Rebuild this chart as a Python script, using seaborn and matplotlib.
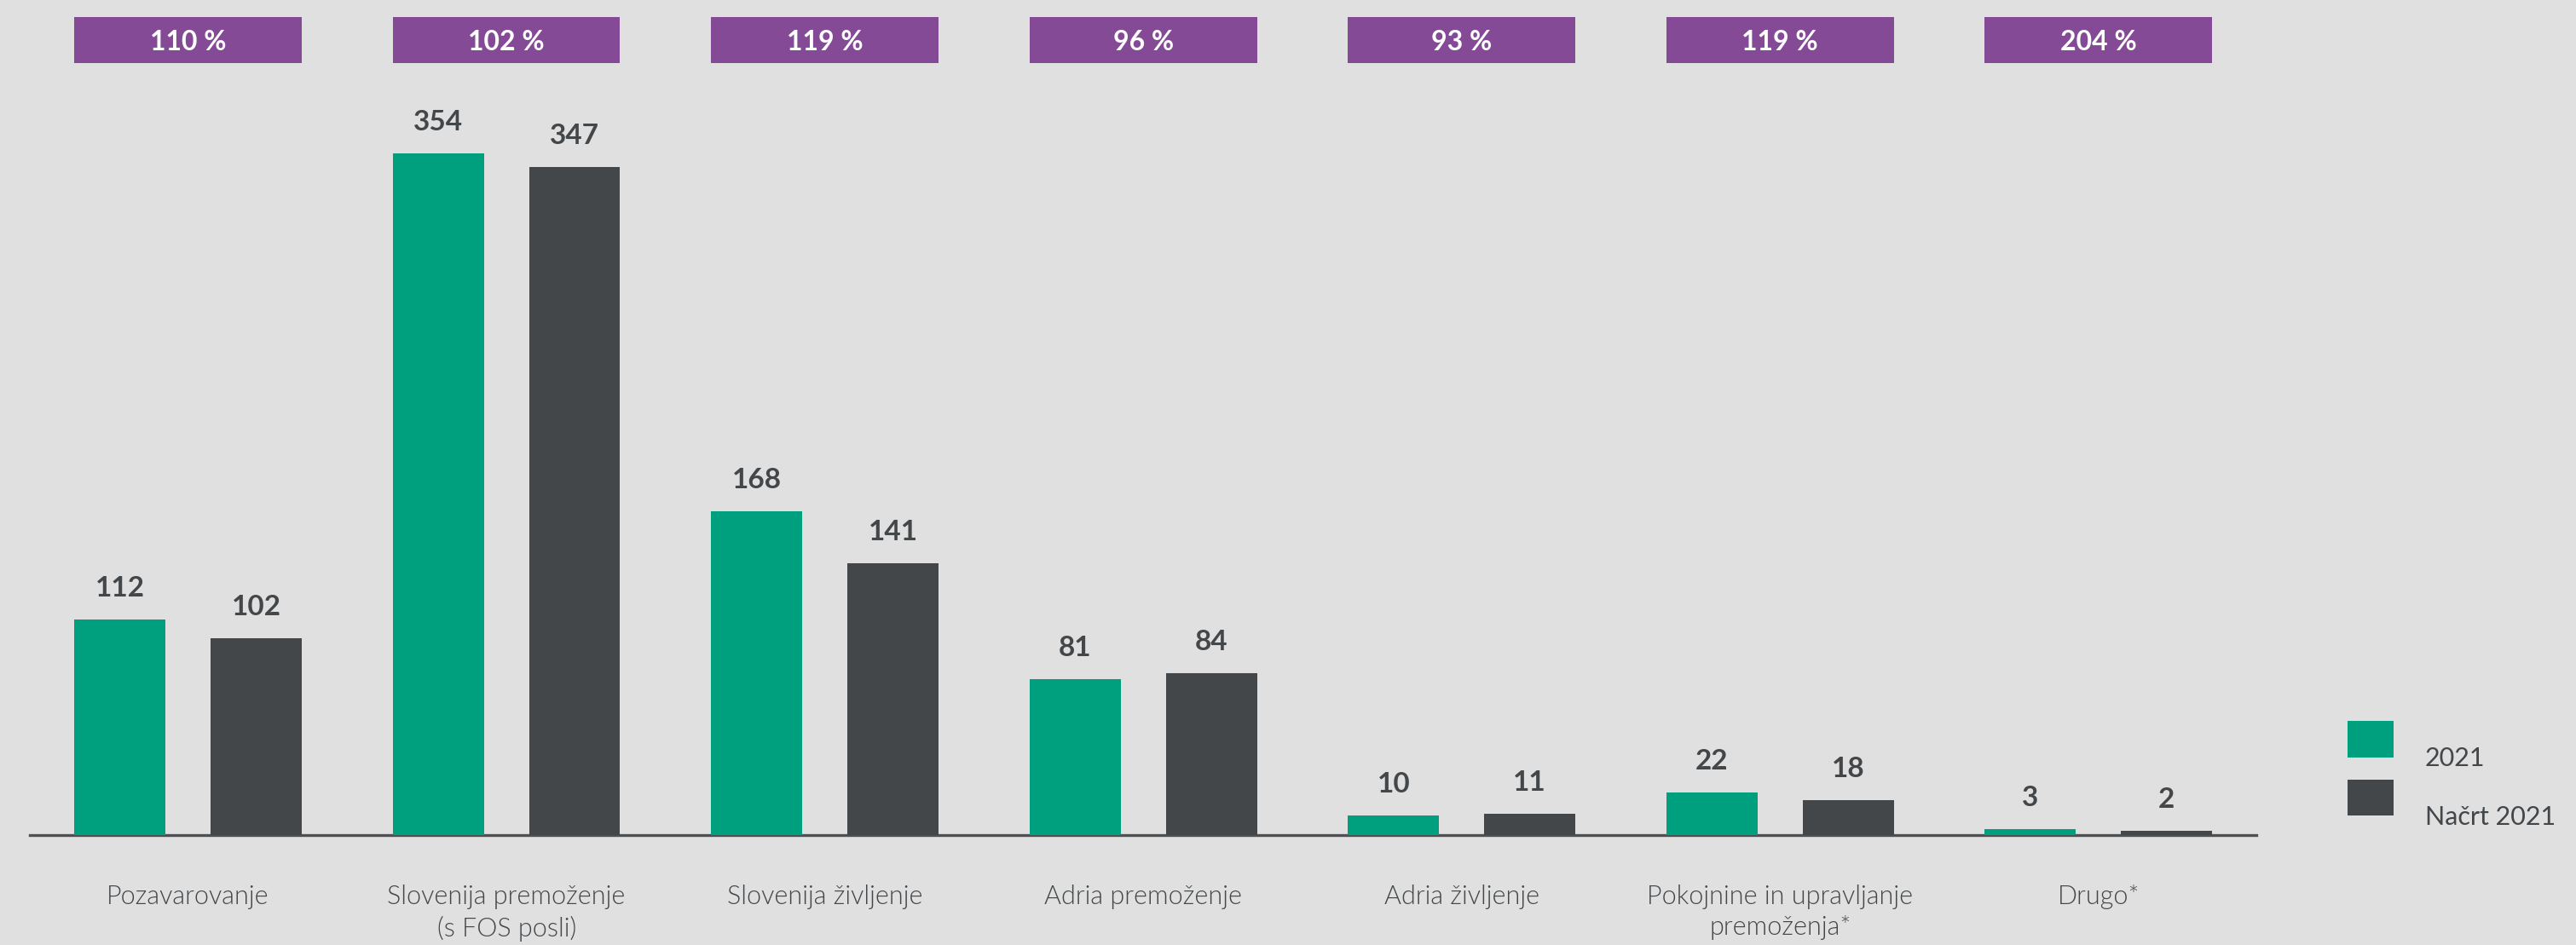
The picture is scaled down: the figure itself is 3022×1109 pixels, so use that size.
import matplotlib
matplotlib.use("Agg")
import matplotlib.pyplot as plt
import matplotlib.patches as mpatches
import matplotlib.transforms as mtransforms
import seaborn as sns
import pandas as pd

# ---- data ----
categories = [
    "Pozavarovanje",
    "Slovenija premoženje\n(s FOS posli)",
    "Slovenija življenje",
    "Adria premoženje",
    "Adria življenje",
    "Pokojnine in upravljanje\npremoženja*",
    "Drugo*",
]
series_names = ["2021", "Načrt 2021"]
values_2021 = [112, 354, 168, 81, 10, 22, 3]
values_plan = [102, 347, 141, 84, 11, 18, 2]
pct_labels = ["110 %", "102 %", "119 %", "96 %", "93 %", "119 %", "204 %"]

# ---- style ----
BG = "#e0e0e0"
GREEN = "#00a07f"
DARK = "#43474a"
PURPLE = "#844a96"
TEXT = "#43474a"

sns.set_theme(style="white")
plt.rcParams["font.family"] = ["Lato", "DejaVu Sans"]

df = pd.DataFrame({
    "cat": categories * 2,
    "series": [series_names[0]] * len(categories) + [series_names[1]] * len(categories),
    "value": values_2021 + values_plan,
})

W, H = 3022, 1109
fig = plt.figure(figsize=(W / 100, H / 100), dpi=100, facecolor=BG)
ax = fig.add_axes([35 / W, 1 - 980 / H, (2647 - 35) / W, 980 / H])
ax.set_facecolor(BG)

sns.barplot(data=df, x="cat", y="value", hue="series", order=categories,
            hue_order=series_names, palette={series_names[0]: GREEN, series_names[1]: DARK},
            width=0.856, gap=0.332, saturation=1, linewidth=0, edgecolor="none",
            ax=ax, legend=True)

ax.set_xlim(-0.497, 6.496)
ax.set_ylim(0, 980 / 2.26)

# value labels
for cont in ax.containers:
    for bar in cont:
        h = bar.get_height()
        ax.annotate(f"{h:.0f}", (bar.get_x() + bar.get_width() / 2, h),
                    xytext=(0, 19.5), textcoords="offset points",
                    ha="center", va="baseline", fontsize=24, fontweight="bold",
                    color=TEXT)

# percentage boxes
trans = mtransforms.blended_transform_factory(ax.transData, ax.transAxes)
box_w = 0.714
y0, y1 = 1 - 74 / 980, 1 - 20 / 980
for i, lab in enumerate(pct_labels):
    ax.add_patch(mpatches.Rectangle((i - box_w / 2, y0), box_w, y1 - y0,
                                    transform=trans, facecolor=PURPLE,
                                    edgecolor="none", clip_on=False, zorder=3))
    ax.text(i, (y0 + y1) / 2, lab, transform=trans, ha="center", va="center_baseline",
            fontsize=23, fontweight="bold", color="white", zorder=4)

# axes styling
for s in ["top", "left", "right"]:
    ax.spines[s].set_visible(False)
ax.spines["bottom"].set_color("#4d5154")
ax.spines["bottom"].set_linewidth(2.4)
ax.spines["bottom"].set_zorder(0.5)
ax.set_yticks([])
ax.set_xlabel("")
ax.set_ylabel("")
ax.tick_params(axis="x", length=0, pad=42, labelcolor=TEXT, labelsize=22)
for t in ax.get_xticklabels():
    t.set_fontweight(300)
    t.set_color(TEXT)
    t.set_linespacing(1.3)

# legend
handles, labels = ax.get_legend_handles_labels()
ax.get_legend().remove()
fs_px = 22 * 100 / 72
leg = fig.legend(handles, labels, loc="upper left",
                 bbox_to_anchor=(2754 / W, 1 - 846 / H), frameon=False,
                 fontsize=22, borderpad=0, borderaxespad=0,
                 handlelength=54 / fs_px, handleheight=54 / fs_px,
                 labelspacing=(80 - 54) / fs_px, handletextpad=37 / fs_px)
shift = mtransforms.ScaledTranslation(0, -0.22, fig.dpi_scale_trans)
for t in leg.get_texts():
    t.set_color(TEXT)
    t.set_transform(t.get_transform() + shift)

fig.savefig("out.png", dpi=100, facecolor=BG)
